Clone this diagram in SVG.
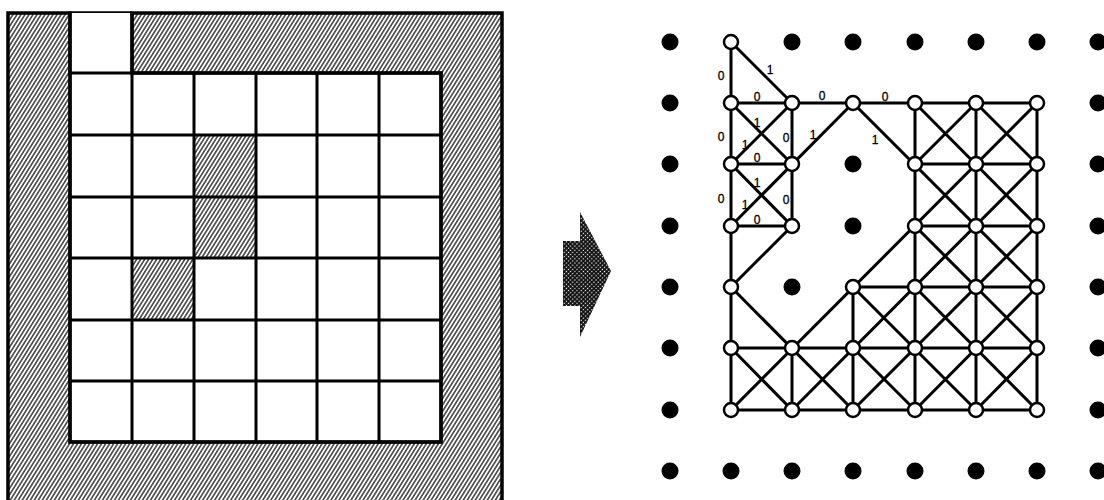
<svg xmlns="http://www.w3.org/2000/svg" width="1104" height="500" viewBox="0 0 1104 500">
<style>
.grid{fill:none;stroke:#000;stroke-width:3;stroke-linecap:square}
.edge{stroke:#000;stroke-width:3;stroke-linecap:round}
.node{fill:#fff;stroke:#000;stroke-width:2.5}
.dot{fill:#000}
.lbl{font-family:"Liberation Sans",Arial,sans-serif;font-size:12px;fill:#000;stroke:#000;stroke-width:0.3;text-anchor:middle}
</style>
<defs>
<pattern id="hatch" width="3.4" height="3.4" patternUnits="userSpaceOnUse" patternTransform="rotate(32)">
<rect width="3.4" height="3.4" fill="#fff"/>
<line x1="1.7" y1="0" x2="1.7" y2="3.4" stroke="#1a1a1a" stroke-width="1.3"/>
</pattern>
<pattern id="halftone" width="3" height="3" patternUnits="userSpaceOnUse" patternTransform="rotate(45)">
<rect width="3" height="3" fill="#111"/>
<circle cx="1.5" cy="1.5" r="0.7" fill="#fff"/>
</pattern>
</defs>
<rect width="1104" height="500" fill="#fff"/>

<g id="grid-map">
<rect x="8" y="13" width="494" height="497" fill="url(#hatch)" stroke="#000" stroke-width="3.5"/>
<rect x="70" y="73" width="371" height="369" fill="#fff"/>
<rect x="70" y="13" width="62" height="60" fill="#fff"/>
<rect x="194" y="135" width="62" height="123" fill="url(#hatch)"/>
<rect x="132" y="258" width="62" height="62" fill="url(#hatch)"/>
<path class="grid" d="M70 13V442M132 13V442M194 73V442M256 73V442M317 73V442M379 73V442M441 73V442M70 73H441M70 135H441M70 197H441M70 258H441M70 320H441M70 381H441M70 442H441"/>
<path d="M70 13V442H441V73H132V13" fill="none" stroke="#000" stroke-width="3.5"/>
</g>

<g id="arrow">
<polygon points="563,241 580,241 580,212 611,271 580,337 580,306 563,306" fill="url(#halftone)"/>
</g>

<g id="connectors">
<line class="edge" x1="731" y1="103" x2="1037" y2="103"/>
<line class="edge" x1="731" y1="164" x2="792" y2="164"/>
<line class="edge" x1="915" y1="164" x2="1037" y2="164"/>
<line class="edge" x1="731" y1="226" x2="792" y2="226"/>
<line class="edge" x1="915" y1="226" x2="1037" y2="226"/>
<line class="edge" x1="853" y1="287" x2="1037" y2="287"/>
<line class="edge" x1="731" y1="348" x2="1037" y2="348"/>
<line class="edge" x1="731" y1="410" x2="1037" y2="410"/>
<line class="edge" x1="731" y1="42" x2="731" y2="410"/>
<line class="edge" x1="792" y1="103" x2="792" y2="226"/>
<line class="edge" x1="792" y1="348" x2="792" y2="410"/>
<line class="edge" x1="853" y1="287" x2="853" y2="410"/>
<line class="edge" x1="915" y1="103" x2="915" y2="410"/>
<line class="edge" x1="976" y1="103" x2="976" y2="410"/>
<line class="edge" x1="1037" y1="103" x2="1037" y2="410"/>
<line class="edge" x1="731" y1="42" x2="792" y2="103"/>
<line class="edge" x1="731" y1="103" x2="792" y2="164"/>
<line class="edge" x1="731" y1="164" x2="792" y2="226"/>
<line class="edge" x1="853" y1="103" x2="1037" y2="287"/>
<line class="edge" x1="915" y1="103" x2="1037" y2="226"/>
<line class="edge" x1="976" y1="103" x2="1037" y2="164"/>
<line class="edge" x1="915" y1="226" x2="1037" y2="348"/>
<line class="edge" x1="915" y1="287" x2="1037" y2="410"/>
<line class="edge" x1="853" y1="287" x2="976" y2="410"/>
<line class="edge" x1="853" y1="348" x2="915" y2="410"/>
<line class="edge" x1="731" y1="287" x2="853" y2="410"/>
<line class="edge" x1="731" y1="348" x2="792" y2="410"/>
<line class="edge" x1="792" y1="103" x2="731" y2="164"/>
<line class="edge" x1="853" y1="103" x2="731" y2="226"/>
<line class="edge" x1="792" y1="226" x2="731" y2="287"/>
<line class="edge" x1="976" y1="103" x2="915" y2="164"/>
<line class="edge" x1="1037" y1="103" x2="731" y2="410"/>
<line class="edge" x1="1037" y1="164" x2="792" y2="410"/>
<line class="edge" x1="1037" y1="226" x2="853" y2="410"/>
<line class="edge" x1="1037" y1="287" x2="915" y2="410"/>
<line class="edge" x1="1037" y1="348" x2="976" y2="410"/>
</g>

<g id="edge-labels">
<text class="lbl" x="721" y="80">0</text>
<text class="lbl" x="770" y="74">1</text>
<text class="lbl" x="757" y="101">0</text>
<text class="lbl" x="822" y="100">0</text>
<text class="lbl" x="885" y="101">0</text>
<text class="lbl" x="757" y="127">1</text>
<text class="lbl" x="721" y="141">0</text>
<text class="lbl" x="745" y="149">1</text>
<text class="lbl" x="786" y="142">0</text>
<text class="lbl" x="813" y="139">1</text>
<text class="lbl" x="875" y="144">1</text>
<text class="lbl" x="757" y="162">0</text>
<text class="lbl" x="757" y="187">1</text>
<text class="lbl" x="721" y="203">0</text>
<text class="lbl" x="745" y="209">1</text>
<text class="lbl" x="786" y="204">0</text>
<text class="lbl" x="757" y="224">0</text>
</g>

<g id="obstacles">
<circle class="dot" cx="670" cy="42" r="8.5"/><circle class="dot" cx="792" cy="42" r="8.5"/><circle class="dot" cx="853" cy="42" r="8.5"/><circle class="dot" cx="915" cy="42" r="8.5"/><circle class="dot" cx="976" cy="42" r="8.5"/><circle class="dot" cx="1037" cy="42" r="8.5"/><circle class="dot" cx="1098" cy="42" r="8.5"/>
<circle class="dot" cx="670" cy="103" r="8.5"/><circle class="dot" cx="1098" cy="103" r="8.5"/>
<circle class="dot" cx="670" cy="164" r="8.5"/><circle class="dot" cx="853" cy="164" r="8.5"/><circle class="dot" cx="1098" cy="164" r="8.5"/>
<circle class="dot" cx="670" cy="226" r="8.5"/><circle class="dot" cx="853" cy="226" r="8.5"/><circle class="dot" cx="1098" cy="226" r="8.5"/>
<circle class="dot" cx="670" cy="287" r="8.5"/><circle class="dot" cx="792" cy="287" r="8.5"/><circle class="dot" cx="1098" cy="287" r="8.5"/>
<circle class="dot" cx="670" cy="348" r="8.5"/><circle class="dot" cx="1098" cy="348" r="8.5"/>
<circle class="dot" cx="670" cy="410" r="8.5"/><circle class="dot" cx="1098" cy="410" r="8.5"/>
<circle class="dot" cx="670" cy="471" r="8.5"/><circle class="dot" cx="731" cy="471" r="8.5"/><circle class="dot" cx="792" cy="471" r="8.5"/><circle class="dot" cx="853" cy="471" r="8.5"/><circle class="dot" cx="915" cy="471" r="8.5"/><circle class="dot" cx="976" cy="471" r="8.5"/><circle class="dot" cx="1037" cy="471" r="8.5"/><circle class="dot" cx="1098" cy="471" r="8.5"/>
</g>

<g id="n1_0"><circle class="node" cx="731" cy="42" r="7"/></g>
<g id="n1_1"><circle class="node" cx="731" cy="103" r="7"/></g>
<g id="n2_1"><circle class="node" cx="792" cy="103" r="7"/></g>
<g id="n3_1"><circle class="node" cx="853" cy="103" r="7"/></g>
<g id="n4_1"><circle class="node" cx="915" cy="103" r="7"/></g>
<g id="n5_1"><circle class="node" cx="976" cy="103" r="7"/></g>
<g id="n6_1"><circle class="node" cx="1037" cy="103" r="7"/></g>
<g id="n1_2"><circle class="node" cx="731" cy="164" r="7"/></g>
<g id="n2_2"><circle class="node" cx="792" cy="164" r="7"/></g>
<g id="n4_2"><circle class="node" cx="915" cy="164" r="7"/></g>
<g id="n5_2"><circle class="node" cx="976" cy="164" r="7"/></g>
<g id="n6_2"><circle class="node" cx="1037" cy="164" r="7"/></g>
<g id="n1_3"><circle class="node" cx="731" cy="226" r="7"/></g>
<g id="n2_3"><circle class="node" cx="792" cy="226" r="7"/></g>
<g id="n4_3"><circle class="node" cx="915" cy="226" r="7"/></g>
<g id="n5_3"><circle class="node" cx="976" cy="226" r="7"/></g>
<g id="n6_3"><circle class="node" cx="1037" cy="226" r="7"/></g>
<g id="n1_4"><circle class="node" cx="731" cy="287" r="7"/></g>
<g id="n3_4"><circle class="node" cx="853" cy="287" r="7"/></g>
<g id="n4_4"><circle class="node" cx="915" cy="287" r="7"/></g>
<g id="n5_4"><circle class="node" cx="976" cy="287" r="7"/></g>
<g id="n6_4"><circle class="node" cx="1037" cy="287" r="7"/></g>
<g id="n1_5"><circle class="node" cx="731" cy="348" r="7"/></g>
<g id="n2_5"><circle class="node" cx="792" cy="348" r="7"/></g>
<g id="n3_5"><circle class="node" cx="853" cy="348" r="7"/></g>
<g id="n4_5"><circle class="node" cx="915" cy="348" r="7"/></g>
<g id="n5_5"><circle class="node" cx="976" cy="348" r="7"/></g>
<g id="n6_5"><circle class="node" cx="1037" cy="348" r="7"/></g>
<g id="n1_6"><circle class="node" cx="731" cy="410" r="7"/></g>
<g id="n2_6"><circle class="node" cx="792" cy="410" r="7"/></g>
<g id="n3_6"><circle class="node" cx="853" cy="410" r="7"/></g>
<g id="n4_6"><circle class="node" cx="915" cy="410" r="7"/></g>
<g id="n5_6"><circle class="node" cx="976" cy="410" r="7"/></g>
<g id="n6_6"><circle class="node" cx="1037" cy="410" r="7"/></g>
</svg>
